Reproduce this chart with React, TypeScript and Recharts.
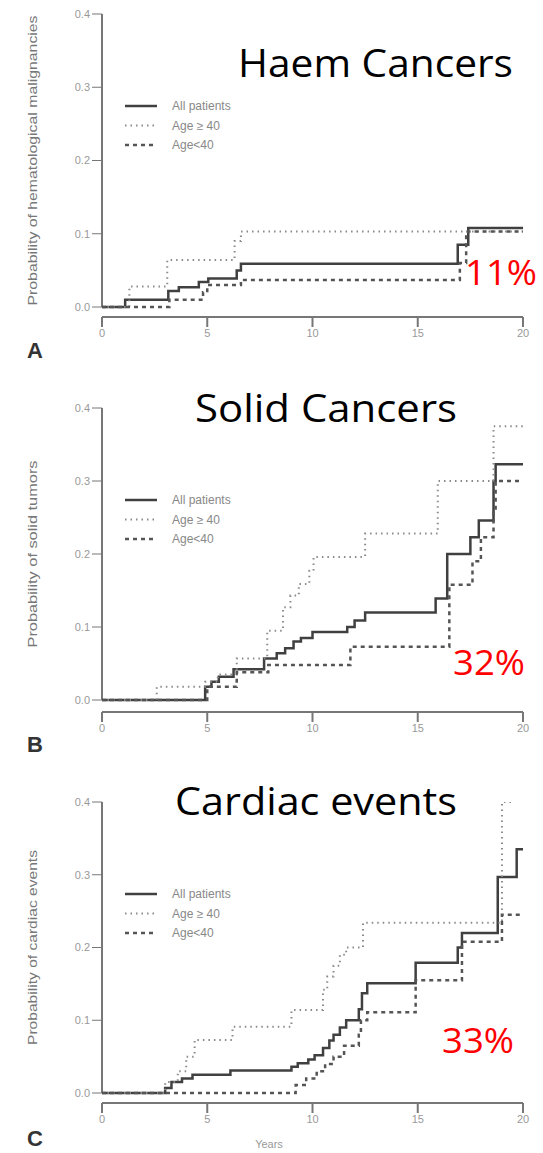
import { LineChart, Line, XAxis, YAxis, ReferenceLine } from 'recharts'

// years and cumulative probabilities
const haemAllT = [0, 1.1, 3.15, 3.65, 4.6, 5.05, 6.4, 6.6, 16.9, 17.4, 20]
const haemAllP = [0, 0.01, 0.022, 0.027, 0.034, 0.039, 0.05, 0.059, 0.085, 0.108, 0.108]
const haemOldT = [0, 1.3, 3.1, 6.3, 6.6, 20]
const haemOldP = [0, 0.028, 0.064, 0.09, 0.103, 0.103]
const haemYoungT = [0, 3.2, 4.8, 5.0, 6.6, 17.0, 17.3, 20]
const haemYoungP = [0, 0.01, 0.02, 0.03, 0.037, 0.06, 0.103, 0.103]

const solidAllT = [0, 4.9, 5.2, 5.55, 6.25, 7.7, 8.3, 8.7, 9.1, 9.45, 10.0, 11.65, 12.0, 12.5, 15.85, 16.4, 17.5, 17.9, 18.6, 18.7, 20]
const solidAllP = [0, 0.018, 0.025, 0.032, 0.042, 0.057, 0.064, 0.071, 0.08, 0.085, 0.093, 0.1, 0.109, 0.12, 0.139, 0.2, 0.223, 0.246, 0.3, 0.323, 0.323]
const solidOldT = [0, 2.6, 4.9, 5.5, 6.4, 7.85, 8.6, 8.95, 9.35, 9.85, 10.05, 12.5, 15.95, 18.6, 20]
const solidOldP = [0, 0.018, 0.025, 0.035, 0.057, 0.095, 0.127, 0.143, 0.159, 0.177, 0.196, 0.228, 0.3, 0.375, 0.375]
const solidYoungT = [0, 5.0, 6.4, 7.9, 11.8, 16.5, 17.6, 18.0, 18.6, 18.7, 20]
const solidYoungP = [0, 0.018, 0.038, 0.048, 0.073, 0.158, 0.19, 0.223, 0.26, 0.3, 0.3]

const cardAllT = [0, 3.0, 3.3, 3.8, 4.3, 6.1, 9.0, 9.3, 9.8, 10.1, 10.5, 10.8, 11.0, 11.3, 11.6, 12.2, 12.35, 12.6, 14.9, 16.9, 17.1, 18.8, 19.7, 20]
const cardAllP = [0, 0.007, 0.015, 0.02, 0.025, 0.031, 0.036, 0.041, 0.046, 0.052, 0.062, 0.072, 0.08, 0.09, 0.1, 0.115, 0.137, 0.151, 0.179, 0.2, 0.22, 0.297, 0.335, 0.335]
const cardOldT = [0, 3.0, 3.6, 4.0, 4.4, 6.2, 9.0, 10.5, 10.7, 11.0, 11.3, 11.6, 12.4, 19.0, 19.5, 20]
const cardOldP = [0, 0.015, 0.03, 0.05, 0.073, 0.091, 0.114, 0.142, 0.16, 0.175, 0.19, 0.2, 0.234, 0.4, 0.41, 0.41]
const cardYoungT = [0, 9.2, 9.7, 10.2, 10.6, 11.0, 11.5, 12.2, 12.3, 12.6, 14.9, 17.1, 19.0, 20]
const cardYoungP = [0, 0.011, 0.02, 0.03, 0.04, 0.05, 0.065, 0.08, 0.1, 0.111, 0.155, 0.208, 0.245, 0.245]

const yTicks = [0, 0.1, 0.2, 0.3, 0.4]
const xTicks = [0, 5, 10, 15, 20]
const legendNames = ['All patients', 'Age \u2265 40', 'Age<40']

const toRows = (t: number[], p: number[]) => t.map((v, i) => ({ t: v, p: p[i] }))

const styles = [
  { stroke: '#404040', strokeWidth: 2.5, dash: undefined },
  { stroke: '#8a8a8a', strokeWidth: 2, dash: '1.5 4' },
  { stroke: '#555', strokeWidth: 2.5, dash: '4 4' },
]

const tick = { fontSize: 11, fill: '#999', fontFamily: 'Liberation Sans' }

function Panel({ top, height, tickTop, zeroY, axisY, series }: {
  top: number; height: number; tickTop: number; zeroY: number; axisY: number; series: { t: number[]; p: number[] }[]
}) {
  const perUnit = (zeroY - tickTop) / 0.4
  const yMin = -(axisY - zeroY) / perUnit
  return (
    <div style={{ position: 'absolute', left: 0, top }}>
      <LineChart width={543} height={height} margin={{ top: tickTop - top, right: 20, bottom: 0, left: 0 }}>
        <XAxis type="number" dataKey="t" domain={[0, 20]} ticks={xTicks} height={height - (axisY - top)}
          tick={tick} tickSize={10} stroke="#777" strokeWidth={2} allowDuplicatedCategory={false} />
        <YAxis type="number" domain={[yMin, 0.4]} ticks={yTicks} width={102} allowDataOverflow
          axisLine={false} tickSize={10} tick={tick} stroke="#777" tickFormatter={(v) => v.toFixed(1)} />
        <ReferenceLine segment={[{ x: 0, y: 0 }, { x: 0, y: 0.4 }]} stroke="#777" strokeWidth={2} />
        {series.map((s, i) => (
          <Line key={i} data={toRows(s.t, s.p)} dataKey="p" type="stepAfter" dot={false}
            stroke={styles[i].stroke} strokeWidth={styles[i].strokeWidth} strokeDasharray={styles[i].dash}
            isAnimationActive={false} />
        ))}
      </LineChart>
    </div>
  )
}

function Labels({ tickTop, zeroY, letter, letterY, yTitle, titleLen, title, titleX, titleY, titleW, pct, pctX, pctY }: any) {
  const lg = tickTop + 92
  return (
    <g>
      <text x={0} y={0} transform={`translate(37 ${(tickTop + zeroY) / 2}) rotate(-90)`} textAnchor="middle"
        fontSize={12} fill="#777" fontFamily="Liberation Sans Narrow, Liberation Sans" textLength={titleLen} lengthAdjust="spacingAndGlyphs">{yTitle}</text>
      <text x={27} y={letterY} fontSize={22} fontWeight="bold" fill="#333" fontFamily="Liberation Sans">{letter}</text>
      {legendNames.map((n, i) => (
        <g key={n}>
          <line x1={125} x2={157} y1={lg + i * 19.5} y2={lg + i * 19.5} stroke={styles[i].stroke}
            strokeWidth={styles[i].strokeWidth} strokeDasharray={styles[i].dash} />
          <text x={172} y={lg + i * 19.5 + 4} fontSize={12} fill="#888" fontFamily="Liberation Sans">{n}</text>
        </g>
      ))}
      <text x={titleX} y={titleY} fontSize={38} fill="#000" fontFamily="Open Sans" textLength={titleW} lengthAdjust="spacingAndGlyphs">{title}</text>
      <text x={pctX} y={pctY} fontSize={34} fill="#ff0000" fontFamily="Open Sans" textLength={72} lengthAdjust="spacingAndGlyphs">{pct}</text>
    </g>
  )
}

export default function App() {
  return (
    <div style={{ position: 'absolute', left: 0, top: 0, width: 543, height: 1153, background: '#fff' }}>
      <Panel top={0} height={360} tickTop={14} zeroY={307} axisY={317}
        series={[{ t: haemAllT, p: haemAllP }, { t: haemOldT, p: haemOldP }, { t: haemYoungT, p: haemYoungP }]} />
      <Panel top={394} height={361} tickTop={408} zeroY={700} axisY={712}
        series={[{ t: solidAllT, p: solidAllP }, { t: solidOldT, p: solidOldP }, { t: solidYoungT, p: solidYoungP }]} />
      <Panel top={788} height={365} tickTop={802} zeroY={1093} axisY={1103}
        series={[{ t: cardAllT, p: cardAllP }, { t: cardOldT, p: cardOldP }, { t: cardYoungT, p: cardYoungP }]} />
      <svg width={543} height={1153} style={{ position: 'absolute', left: 0, top: 0, pointerEvents: 'none' }}>
        <Labels tickTop={14} zeroY={307} letter="A" letterY={358} yTitle="Probability of hematological malignancies" titleLen={290}
          title="Haem Cancers" titleX={238} titleY={77} titleW={275} pct="11%" pctX={465} pctY={285} />
        <Labels tickTop={408} zeroY={700} letter="B" letterY={752} yTitle="Probability of solid tumors" titleLen={187}
          title="Solid Cancers" titleX={195} titleY={422} titleW={262} pct="32%" pctX={453} pctY={675} />
        <Labels tickTop={802} zeroY={1093} letter="C" letterY={1146} yTitle="Probability of cardiac events" titleLen={195}
          title="Cardiac events" titleX={175} titleY={815} titleW={282} pct="33%" pctX={442} pctY={1053} />
        <text x={269} y={1148} textAnchor="middle" fontSize={11} fill="#999" fontFamily="Liberation Sans">Years</text>
      </svg>
    </div>
  )
}
